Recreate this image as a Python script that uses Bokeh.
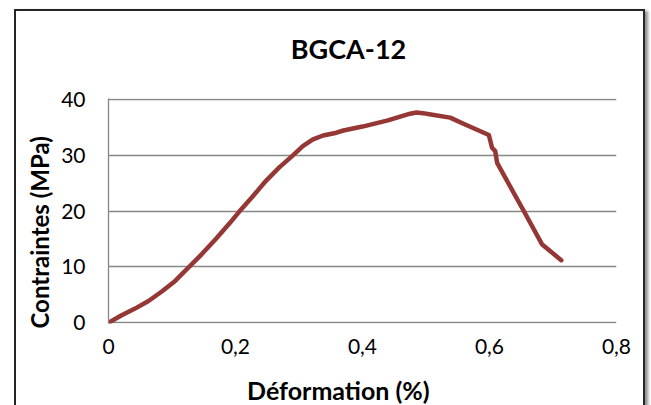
import json
from bokeh.plotting import figure
from bokeh.models import (Range1d, FixedTicker, CustomJSTickFormatter,
                          LinearAxis, Title)
from bokeh.embed import file_html
from bokeh.resources import INLINE

# Stress-strain curve of specimen BGCA-12
strain = [0, 0.020, 0.041, 0.063, 0.084, 0.105, 0.126, 0.147, 0.169, 0.190,
          0.206, 0.227, 0.248, 0.269, 0.290, 0.306, 0.322, 0.338, 0.359, 0.370,
          0.400, 0.440, 0.475, 0.485, 0.495, 0.510, 0.538, 0.559, 0.591, 0.599,
          0.604, 0.609, 0.612, 0.654, 0.683, 0.713]
stress = [0, 1.3, 2.5, 3.9, 5.6, 7.5, 9.9, 12.3, 15.0, 17.7,
          19.9, 22.6, 25.4, 27.8, 29.9, 31.6, 32.8, 33.5, 34.0, 34.4,
          35.1, 36.2, 37.4, 37.6, 37.5, 37.2, 36.7, 35.6, 34.0, 33.6,
          31.3, 30.7, 28.6, 20.0, 14.0, 11.2]

x_ticks = [0, 0.2, 0.4, 0.6, 0.8]
y_ticks = [0, 10, 20, 30, 40]

title_text = "BGCA-12"
x_label = "Déformation (%)"
y_label = "Contraintes (MPa)"

FONT = "Lato"
GRID = "#878787"

p = figure(width=631, height=396, output_backend="svg", toolbar_location=None,
           x_range=Range1d(0, 0.8), y_range=Range1d(-0.12, 40.12),
           min_border_left=92, min_border_right=31,
           min_border_top=87, min_border_bottom=83,
           margin=(9, 0, 0, 14))

# chart-area frame (open at the bottom) with a soft drop shadow
p.styles = {
    "border-left": "2px solid #262626",
    "border-top": "2px solid #262626",
    "border-right": "2px solid #262626",
    "box-shadow": "3px 2px 3px rgba(0,0,0,0.45)",
}

p.background_fill_color = "white"
p.border_fill_color = "white"
p.outline_line_color = None

# the two real axes
xax = p.below[0]
yax = p.left[0]


def text_axis(text, at, standoff, size):
    """A bare axis whose single tick label carries a heading."""
    return LinearAxis(ticker=FixedTicker(ticks=[at]),
                      formatter=CustomJSTickFormatter(
                          code="return %s;" % json.dumps(text)),
                      axis_line_color=None,
                      major_tick_out=0, major_tick_in=0,
                      minor_tick_out=0, minor_tick_in=0,
                      major_tick_line_color=None, minor_tick_line_color=None,
                      major_label_standoff=standoff,
                      major_label_text_font=FONT,
                      major_label_text_font_size=size,
                      major_label_text_font_style="bold",
                      major_label_text_color="black")


# grid
p.xgrid.visible = False
p.ygrid.ticker = FixedTicker(ticks=y_ticks)
p.ygrid.grid_line_color = GRID
p.ygrid.grid_line_width = 1.3

# axes
xax.ticker = FixedTicker(ticks=x_ticks)
yax.ticker = FixedTicker(ticks=y_ticks)
xax.formatter = CustomJSTickFormatter(
    code="return tick == 0 ? '0' : tick.toFixed(1).replace('.', ',');")

for ax in (xax, yax):
    ax.major_tick_line_color = None
    ax.minor_tick_line_color = None
    ax.major_tick_out = 0
    ax.minor_tick_out = 0
    ax.major_tick_in = 0
    ax.minor_tick_in = 0
    ax.major_label_text_font = FONT
    ax.major_label_text_font_size = "21px"
    ax.major_label_text_color = "black"

xax.axis_line_color = None
xax.major_label_standoff = 15

yax.axis_line_color = GRID
yax.axis_line_width = 1.3
yax.major_label_standoff = 23

# chart title above the frame, x title under the tick labels
p.add_layout(text_axis(title_text, 0.378, 34, "27px"), "above")
p.add_layout(text_axis(x_label, 0.362, 18, "25px"), "below")
# y title
p.add_layout(Title(text=y_label, align="left", offset=-5, standoff=9,
                   text_font=FONT, text_font_size="24px",
                   text_font_style="bold", text_color="black"), "left")

p.line(strain, stress, line_color="#953735", line_width=4.5,
       line_join="round", line_cap="round")

open("out.html", "w").write(file_html(p, INLINE))
